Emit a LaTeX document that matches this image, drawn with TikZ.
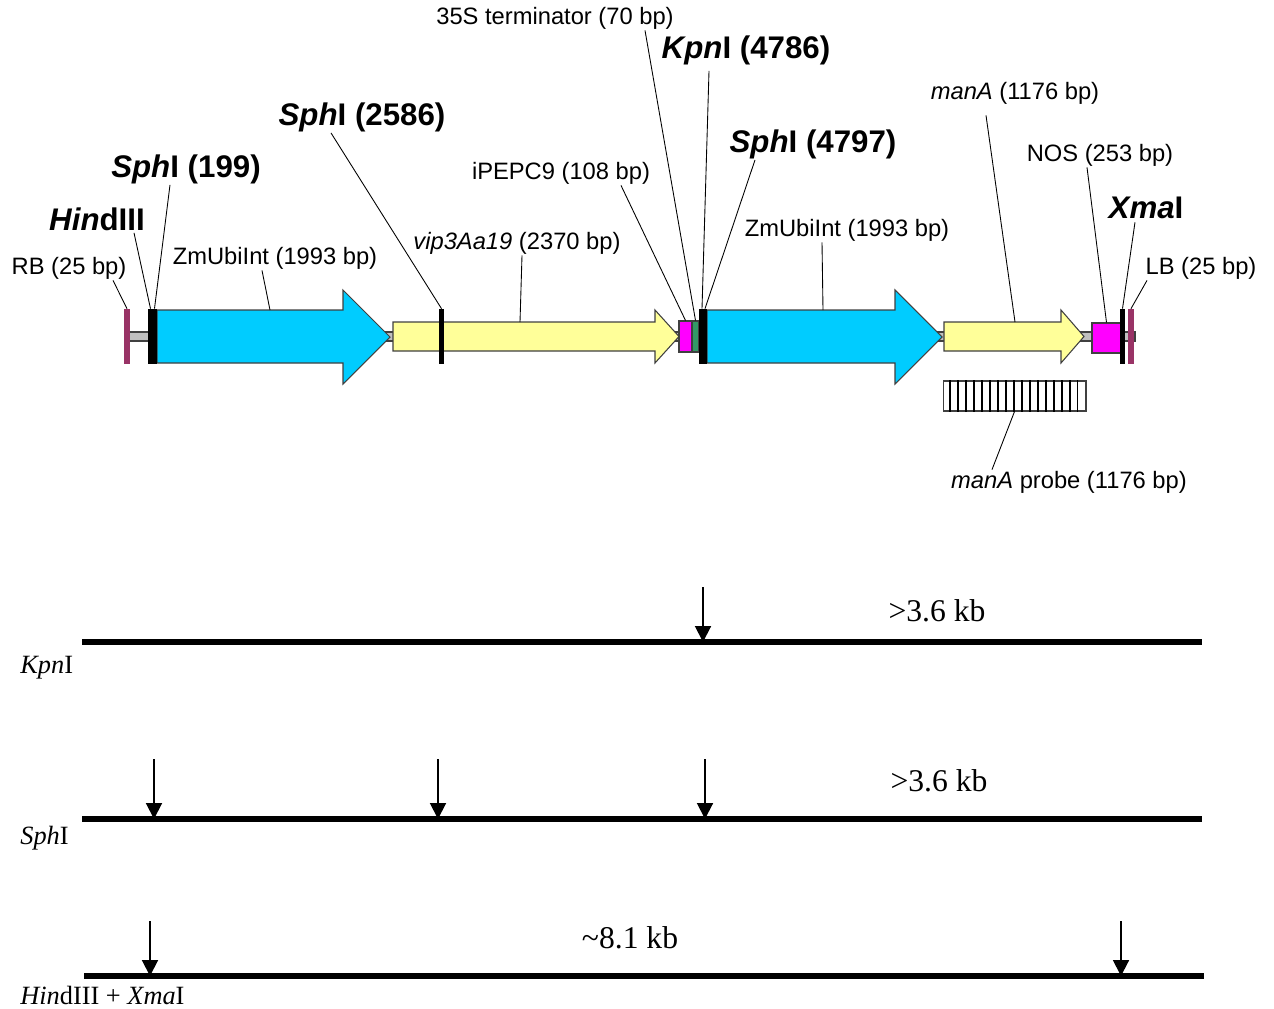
\documentclass[tikz,border=0pt]{standalone}
\usepackage{fontspec}
\setmainfont{Liberation Serif}
\newfontfamily\arial{Liberation Sans}
\usepackage{tikz}
\usetikzlibrary{arrows.meta,calc}
\definecolor{ubiblue}{HTML}{00CCFF}
\definecolor{cdsyellow}{HTML}{FFFF99}
\definecolor{termpink}{HTML}{FF00FF}
\definecolor{termgreen}{HTML}{339966}
\definecolor{border}{HTML}{993366}
\definecolor{backbone}{HTML}{C0C0C0}
\definecolor{edge}{HTML}{404040}
\tikzset{
  part/.style={draw=edge,line width=0.6pt},
  site/.style={fill=black,inner sep=0,minimum height=1.1cm},
  bordbar/.style={fill=border,inner sep=0,minimum width=0.12cm,minimum height=1.1cm},
  elem/.style={part,inner sep=0,minimum height=0.62cm},
  lbl/.style={font=\arial\fontsize{13.5}{16}\selectfont,inner sep=0},
  sitelbl/.style={font=\arial\bfseries\fontsize{17.8}{21}\selectfont,inner sep=0},
  leader/.style={draw=black,line width=0.5pt},
  cut/.style={-{Triangle[length=9pt,width=9pt]},line width=1.1pt},
  track/.style={line width=2.9pt},
  kb/.style={font=\fontsize{18}{21}\selectfont,inner sep=0},
  enz/.style={font=\fontsize{15}{18}\selectfont,inner sep=0}}

\begin{document}
\begin{tikzpicture}[x=0.02cm,y=-0.02cm]
  \useasboundingbox (0,0) rectangle (1274,1008);
  % T-DNA map
  \draw[part,fill=backbone] (127,332) rectangle (1135,341);
  \draw[part,fill=ubiblue] (157,310) -- (343,310) -- (343,290) -- (390,337) -- (343,384) -- (343,363) -- (157,363) -- cycle;
  \draw[part,fill=cdsyellow] (393,322) -- (655,322) -- (655,310) -- (679,336.5) -- (655,363) -- (655,351) -- (393,351) -- cycle;
  \draw[part,fill=ubiblue] (707,310) -- (895,310) -- (895,290) -- (942,337) -- (895,384) -- (895,363) -- (707,363) -- cycle;
  \draw[part,fill=cdsyellow] (944,322) -- (1061,322) -- (1061,310) -- (1084,336.5) -- (1061,363) -- (1061,351) -- (944,351) -- cycle;
  \coordinate (ubi1) at (270,310);
  \coordinate (vip) at (520,322);
  \coordinate (ubi2) at (823,310);
  \coordinate (mana) at (1015,322);
  \node[elem,fill=termpink,minimum width=0.26cm] (pepc) at (685.5,336.5) {};
  \node[elem,fill=termgreen,minimum width=0.14cm] (term) at (695.5,336.5) {};
  \node[elem,fill=termpink,minimum width=0.58cm,minimum height=0.6cm] (nos) at (1106.5,338) {};
  \node[bordbar] (rb) at (127,336.5) {};
  \node[site,minimum width=0.18cm] (hsite) at (152.5,336.5) {};
  \node[site,minimum width=0.11cm] (s2) at (441.5,336.5) {};
  \node[site,minimum width=0.16cm] (s3) at (703,336.5) {};
  \node[site,minimum width=0.10cm] (xsite) at (1122.5,336.5) {};
  \node[bordbar] (lb) at (1131,336.5) {};
  % probe
  \node[part,fill=white,inner sep=0,minimum width=2.86cm,minimum height=0.6cm] (probe) at (1014.5,396) {};
  \foreach \i in {1,...,17}
    \draw[line width=1.1pt] ($(probe.south west)+(\i*7.94,0)$) -- ($(probe.north west)+(\i*7.94,0)$);
  % labels
  \node[lbl] (rblab) at (69,268) {RB (25 bp)};
  \node[sitelbl] (hindlab) at (97,219) {\textit{Hin}dIII};
  \node[sitelbl] (sph1lab) at (186,169) {\textit{Sph}I (199)};
  \node[lbl] (ubi1lab) at (275,258) {ZmUbiInt (1993 bp)};
  \node[sitelbl] (sph2lab) at (362,117) {\textit{Sph}I (2586)};
  \node[lbl] (viplab) at (517,243) {\textit{vip3Aa19} (2370 bp)};
  \node[lbl] (pepclab) at (561,173) {iPEPC9 (108 bp)};
  \node[lbl] (termlab) at (555,18) {35S terminator (70 bp)};
  \node[sitelbl] (kpnlab) at (746,50) {\textit{Kpn}I (4786)};
  \node[sitelbl] (sph3lab) at (813,144) {\textit{Sph}I (4797)};
  \node[lbl] (ubi2lab) at (847,230) {ZmUbiInt (1993 bp)};
  \node[lbl] (manlab) at (1015,93) {\textit{manA} (1176 bp)};
  \node[lbl] (noslab) at (1100,155) {NOS (253 bp)};
  \node[sitelbl] (xmalab) at (1146,208) {\textit{Xma}I};
  \node[lbl] (lblab) at (1201,268) {LB (25 bp)};
  \node[lbl] (probelab) at (1069,482) {\textit{manA} probe (1176 bp)};
  \draw[leader] ($(rblab.south)+(44,1)$) -- (rb.north);
  \draw[leader] ($(hindlab.south)+(37,2)$) -- ($(hsite.north)+(-2,0)$);
  \draw[leader] ($(sph1lab.south)+(-16,1)$) -- ($(hsite.north)+(2,0)$);
  \draw[leader] ($(ubi1lab.south)+(-13,1)$) -- (ubi1);
  \draw[leader] ($(sph2lab.south)+(-31,1)$) -- (s2.north);
  \draw[leader] ($(viplab.south)+(5,1)$) -- (vip);
  \draw[leader] ($(pepclab.south)+(60,1)$) -- (pepc.north);
  \draw[leader] ($(termlab.south)+(90,1)$) -- (term.north);
  \draw[leader] ($(kpnlab.south)+(-37,6)$) -- ($(s3.north)+(-1,0)$);
  \draw[leader] ($(sph3lab.south)+(-58,1)$) -- ($(s3.north)+(2,0)$);
  \draw[leader] ($(ubi2lab.south)+(-25,1)$) -- (ubi2);
  \draw[leader] ($(manlab.south)+(-29,11)$) -- (mana);
  \draw[leader] ($(noslab.south)+(-13,1)$) -- (nos.north);
  \draw[leader] ($(xmalab.south)+(-11,3)$) -- (xsite.north);
  \draw[leader] ($(lblab.south)+(-54,1)$) -- (lb.north);
  \draw[leader] ($(probelab.north)+(-77,-1)$) -- (probe.south);
  % expected fragments
  \coordinate (k0) at (82,642);  \coordinate (k1) at (1202,642);
  \coordinate (p0) at (82,819);  \coordinate (p1) at (1202,819);
  \coordinate (h0) at (84,976);  \coordinate (h1) at (1204,976);
  \draw[track] (k0) -- (k1);
  \draw[track] (p0) -- (p1);
  \draw[track] (h0) -- (h1);
  \coordinate (kc) at (703,587);
  \draw[cut] (kc) -- (kc |- k0);
  \foreach \x in {154,438,705} {
    \coordinate (pc) at (\x,759);
    \draw[cut] (pc) -- (pc |- p0);
  }
  \foreach \x in {150,1121} {
    \coordinate (hc) at (\x,921);
    \draw[cut] (hc) -- (hc |- h0);
  }
  \node[kb] (kkb) at (937,611) {>3.6 kb};
  \node[kb] (pkb) at (939,781) {>3.6 kb};
  \node[kb] (hkb) at (630,938) {\textasciitilde 8.1 kb};
  \node[enz,anchor=west] (klab) at (20,668) {\textit{Kpn}I};
  \node[enz,anchor=west] (plab) at (20,838) {\textit{Sph}I};
  \node[enz,anchor=west] (hlab) at (20,995) {\textit{Hin}dIII + \textit{Xma}I};
\end{tikzpicture}
\end{document}
